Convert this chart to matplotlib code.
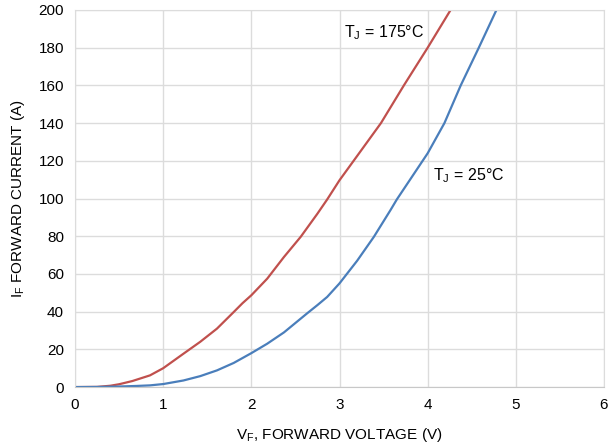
import matplotlib.pyplot as plt

plt.rcParams['font.family'] = ['Liberation Sans', 'DejaVu Sans']
plt.rcParams['mathtext.fontset'] = 'custom'
plt.rcParams['mathtext.rm'] = 'Liberation Sans'

# T_J = 175 C
vf_hot = [0, 0.25, 0.4, 0.5, 0.65, 0.85, 1.0, 1.23, 1.42, 1.61, 1.8, 1.9, 2.0, 2.18, 2.37, 2.56, 2.75, 2.86,
          3.0, 3.16, 3.47, 3.73, 4.0, 4.26]
if_hot = [0, 0.1, 0.7, 1.5, 3.2, 6.2, 10, 17.7, 24, 31, 39.8, 44.5, 48.7, 57.5, 69, 79.7, 92, 99.5,
          109.7, 120, 140, 160, 180, 200]

# T_J = 25 C
vf_cold = [0, 0.25, 0.5, 0.7, 0.85, 1.0, 1.23, 1.42, 1.61, 1.8, 2.0, 2.18, 2.37, 2.5, 2.63, 2.75, 2.86,
           3.0, 3.2, 3.39, 3.58, 3.65, 3.8, 4.0, 4.19, 4.375, 4.58, 4.78]
if_cold = [0, 0.05, 0.3, 0.6, 0.9, 1.6, 3.5, 5.8, 8.85, 12.8, 18, 23, 29, 34, 39, 43.5, 47.8,
           55, 67, 79.7, 94, 99.5, 110, 124, 140, 160, 180, 200]

fig = plt.figure(figsize=(6.08, 4.48), dpi=100)
ax = fig.add_axes([0.1234, 0.136, 0.87, 0.8417])

ax.plot(vf_hot, if_hot, color='#c0504d', lw=1.6)
ax.plot(vf_cold, if_cold, color='#4a7ebb', lw=1.6)

ax.set_xlim(0, 6)
ax.set_ylim(0, 200)
ax.set_xticks(range(0, 7))
ax.set_yticks(range(0, 201, 20))
ax.grid(True, color='#dcdcdc', lw=1)
for s in ax.spines.values():
    s.set_color('#dcdcdc')
ax.spines['bottom'].set_color('#c8c8c8')
ax.tick_params(length=0, labelsize=11, pad=8)
ax.set_axisbelow(True)

ax.text(3.05, 188, r'T$_\mathregular{J}$ = 175°C', fontsize=11.5, va='center')
ax.text(4.06, 112, r'T$_\mathregular{J}$ = 25°C', fontsize=11.5, va='center')

ax.set_xlabel(r'V$_\mathregular{F}$, FORWARD VOLTAGE (V)', fontsize=11, labelpad=10)
ax.set_ylabel(r'I$_\mathregular{F}$ FORWARD CURRENT (A)', fontsize=11, labelpad=8)

fig.savefig('out.png', dpi=100)
